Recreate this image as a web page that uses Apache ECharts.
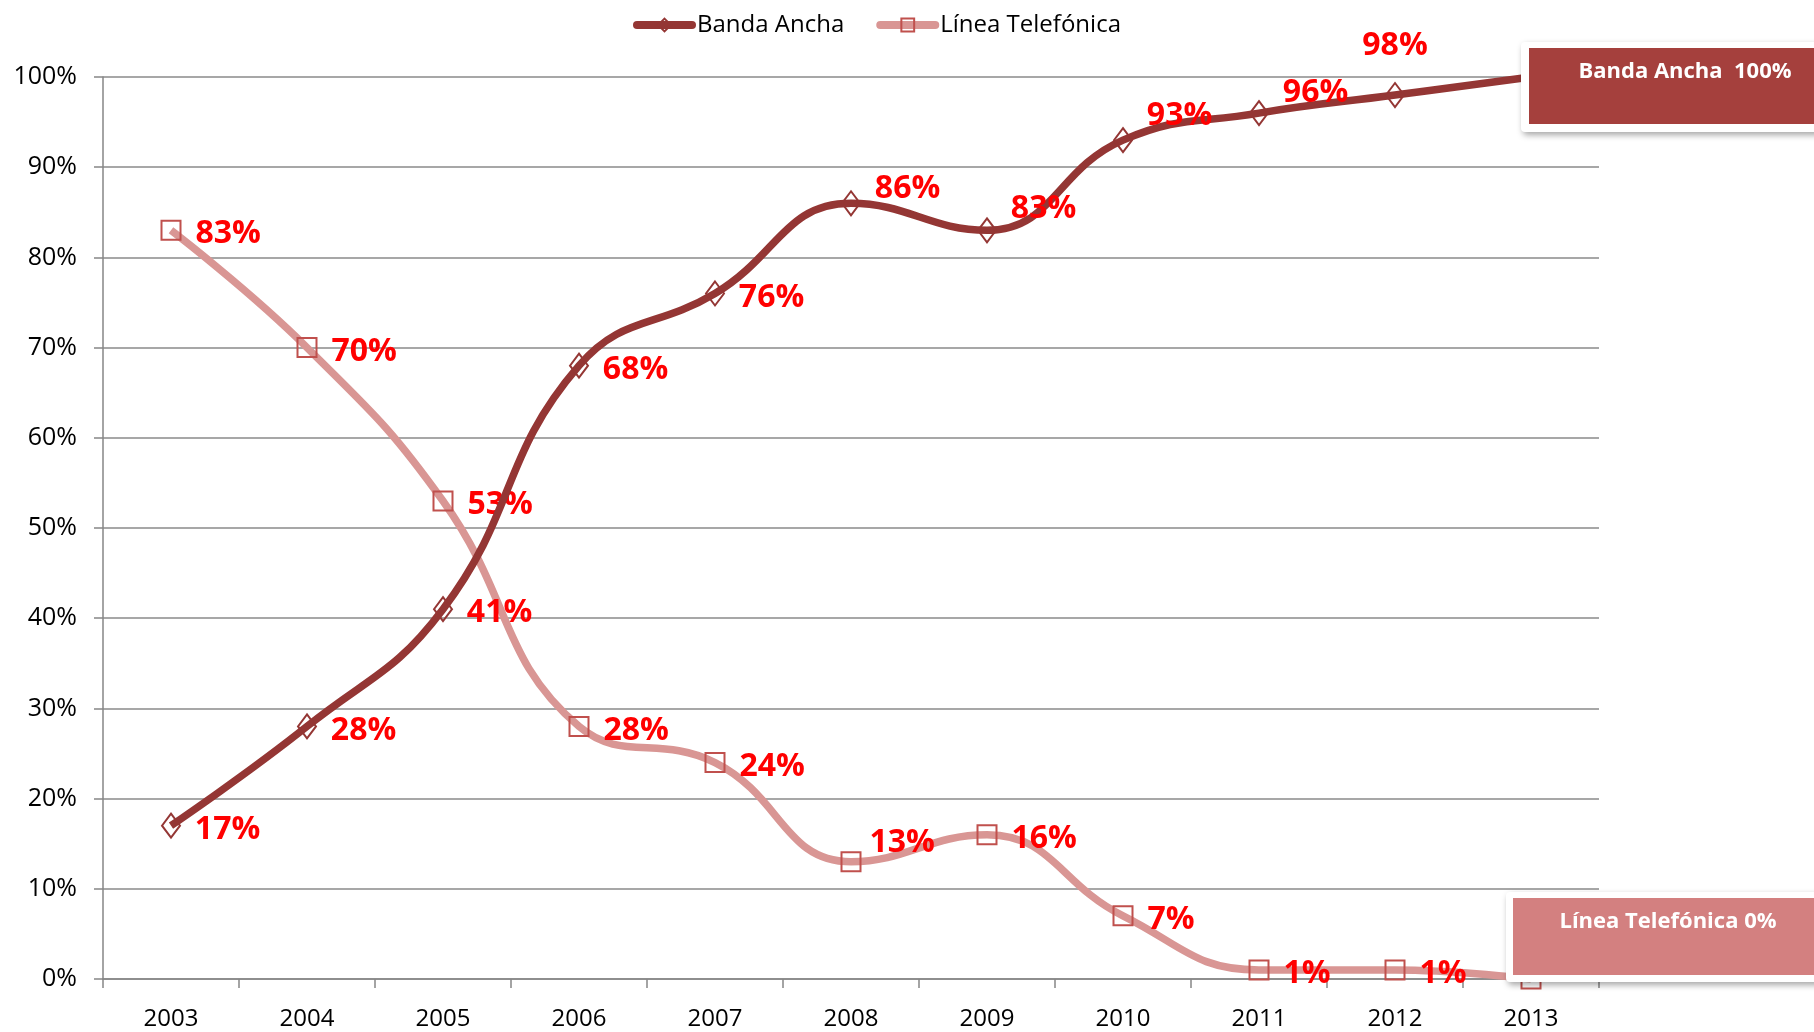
<!DOCTYPE html>
<html>
<head>
<meta charset="utf-8">
<title>Banda Ancha vs Línea Telefónica</title>
<script src="https://cdn.jsdelivr.net/npm/echarts@6/dist/echarts.min.js"></script>
<style>
  html, body { margin: 0; padding: 0; background: #fff; }
  #chart { width: 1814px; height: 1032px; }
</style>
</head>
<body>
<div id="chart"></div>
<script>
// datos
const years = ["2003", "2004", "2005", "2006", "2007", "2008", "2009", "2010", "2011", "2012", "2013"];
const bandaAncha = [17, 28, 41, 68, 76, 86, 83, 93, 96, 98, 100];
const lineaTelefonica = [83, 70, 53, 28, 24, 13, 16, 7, 1, 1, 0];

// ajustes de etiquetas (solo posicion, no datos)
const bandaNudge = { 5: [0, -14], 6: [0, -21], 7: [0, -24], 8: [0, -20], 9: "top", 10: "hide" };
const lineaNudge = { 5: [-6, -19], 10: "hide" };

const FONT = "Open Sans";
const C_BANDA = "#943634";
const C_LINEA = "#D99694";
const C_LINEA_MK = "#C0504D";

function buildData(values, nudge) {
  return values.map(function (v, i) {
    const n = nudge[i];
    if (n === "hide") return { value: v, label: { show: false } };
    if (n === "top") return { value: v, label: { position: "top", distance: 20, offset: [0, 0] } };
    if (n) return { value: v, label: { offset: n } };
    return v;
  });
}

const labelStyle = {
  show: true,
  position: "right",
  distance: 14,
  offset: [0, 4],
  formatter: "{c}%",
  color: "#FF0000",
  fontFamily: FONT,
  fontWeight: "bold",
  fontSize: 32,
};

const boxShadow = { shadowBlur: 6, shadowOffsetX: 2, shadowOffsetY: 3, shadowColor: "rgba(0,0,0,0.35)" };

const chart = echarts.init(document.getElementById("chart"));
const option = {
  animation: false,
  textStyle: { fontFamily: FONT },
  legend: {
    top: 8,
    left: 628,
    itemWidth: 55,
    itemHeight: 16,
    itemGap: 32,
    lineStyle: { width: 8, cap: "round" },
    textStyle: { color: "#000", fontSize: 24, fontFamily: FONT },
    data: ["Banda Ancha", "Línea Telefónica"],
  },
  grid: { left: 103, right: 215, top: 77, bottom: 53, containLabel: false },
  xAxis: {
    type: "category",
    data: years,
    boundaryGap: true,
    axisLine: { lineStyle: { color: "#868686", width: 1.5 } },
    axisTick: { show: true, length: 9, lineStyle: { color: "#868686", width: 1.5 } },
    axisLabel: { color: "#000", fontSize: 24, margin: 28, fontFamily: FONT },
  },
  yAxis: {
    type: "value",
    min: 0,
    max: 100,
    interval: 10,
    axisLine: { show: true, lineStyle: { color: "#868686", width: 1.5 } },
    axisTick: { show: true, length: 9, lineStyle: { color: "#868686", width: 1.5 } },
    axisLabel: { color: "#000", fontSize: 25, margin: 26, formatter: "{value}%", fontFamily: FONT },
    splitLine: { lineStyle: { color: "#8a8a8a", width: 1.5 } },
  },
  series: [
    {
      name: "Línea Telefónica",
      type: "line",
      smooth: 0.45,
      data: buildData(lineaTelefonica, lineaNudge),
      symbol: "rect",
      symbolSize: 19,
      lineStyle: { color: C_LINEA, width: 7.5 },
      itemStyle: { color: "rgba(255,255,255,0)", borderColor: C_LINEA_MK, borderWidth: 2 },
      label: labelStyle,
      z: 2,
    },
    {
      name: "Banda Ancha",
      type: "line",
      smooth: 0.45,
      data: buildData(bandaAncha, bandaNudge),
      symbol: "diamond",
      symbolSize: [18, 24],
      lineStyle: { color: C_BANDA, width: 7.5 },
      itemStyle: { color: "rgba(255,255,255,0)", borderColor: C_BANDA, borderWidth: 2 },
      label: labelStyle,
      z: 3,
    },
  ],
  graphic: [
    {
      type: "rect", z: 100,
      shape: { x: 1521, y: 42, width: 300, height: 90, r: 4 },
      style: Object.assign({ fill: "#fff" }, boxShadow),
    },
    { type: "rect", z: 101, shape: { x: 1529, y: 48, width: 290, height: 76 }, style: { fill: "#A5403D" } },
    {
      type: "text", z: 102,
      style: {
        x: 1685, y: 72, text: "Banda Ancha  100%", fill: "#fff",
        font: "bold 22px 'Open Sans'", align: "center", verticalAlign: "middle",
      },
    },
    {
      type: "rect", z: 100,
      shape: { x: 1506, y: 892, width: 320, height: 90, r: 4 },
      style: Object.assign({ fill: "#fff" }, boxShadow),
    },
    { type: "rect", z: 101, shape: { x: 1513, y: 898, width: 310, height: 77 }, style: { fill: "#D38080" } },
    {
      type: "text", z: 102,
      style: {
        x: 1668, y: 922, text: "Línea Telefónica 0%", fill: "#fff",
        font: "bold 22px 'Open Sans'", align: "center", verticalAlign: "middle",
      },
    },
  ],
};
chart.setOption(option);
</script>
</body>
</html>
